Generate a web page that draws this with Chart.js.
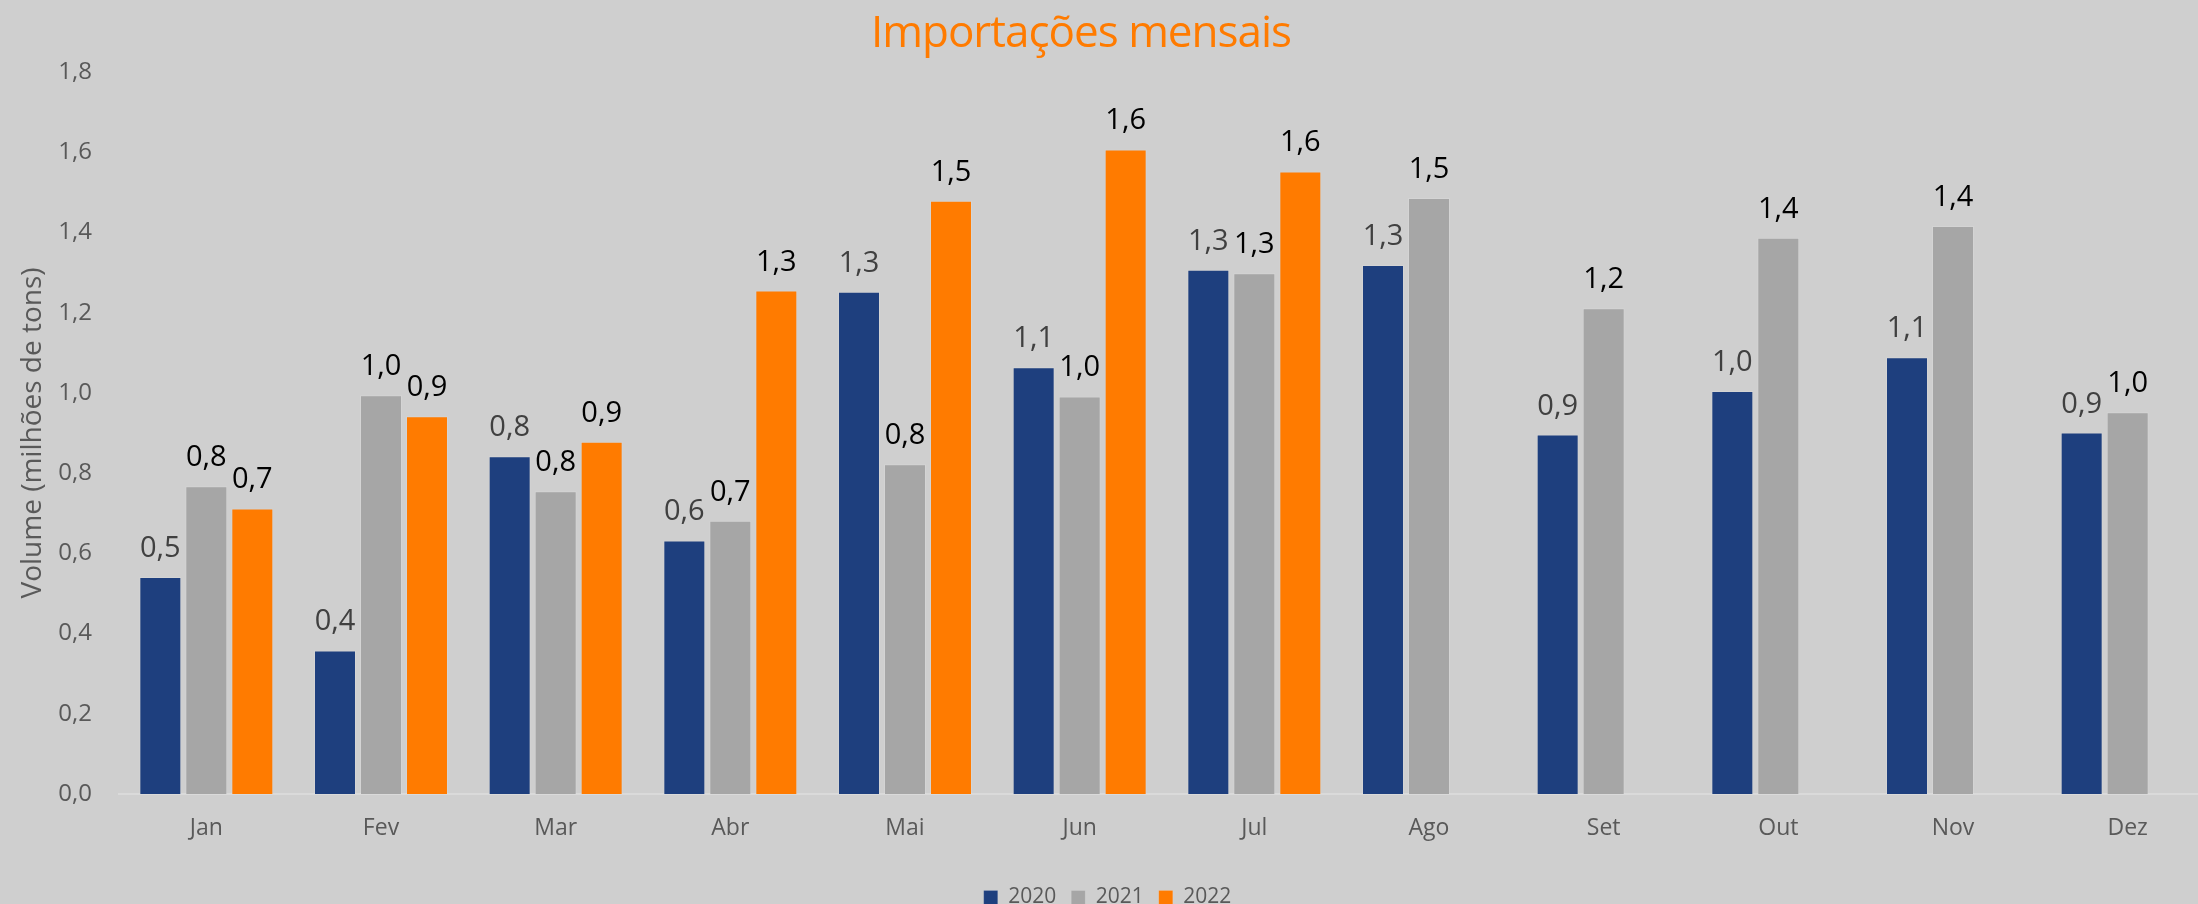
<!DOCTYPE html>
<html><head><meta charset="utf-8">
<script src="https://cdn.jsdelivr.net/npm/chart.js@4.4.1/dist/chart.umd.min.js"></script>
<style>
html,body{margin:0;padding:0;background:#cfcfcf;overflow:hidden;width:2198px;height:904px;}
#wrap{position:absolute;left:-13px;top:0;}
</style></head><body>
<div id="wrap"><canvas id="c" width="2228" height="918"></canvas></div>
<script>
const TITLE = 'Importações mensais';
const Y_TITLE = 'Volume (milhões de tons)';
const categories = ['Jan','Fev','Mar','Abr','Mai','Jun','Jul','Ago','Set','Out','Nov','Dez'];
const seriesNames = ['2020','2021','2022'];
const v2020 = [0.541,0.358,0.842,0.632,1.252,1.064,1.307,1.319,0.896,1.005,1.089,0.901];
const v2021 = [0.767,0.994,0.755,0.681,0.822,0.991,1.298,1.486,1.211,1.387,1.416,0.952];
const v2022 = [0.712,0.942,0.878,1.255,1.479,1.607,1.552,null,null,null,null,null];
const Y_MIN = 0, Y_MAX = 1.8, Y_STEP = 0.2;

const colors = ['#1e3f7e','#a6a6a6','#ff7b00'];
const labelColors = ['#404040','#000000','#000000'];
const FONT = '"Open Sans", "Noto Sans", sans-serif';
const fmt = v => v.toFixed(1).replace('.', ',');

const dataLabels = {
  id: 'dataLabels',
  afterDatasetsDraw(chart) {
    const ctx = chart.ctx;
    ctx.save();
    ctx.font = '29px ' + FONT;
    ctx.textAlign = 'center';
    ctx.textBaseline = 'alphabetic';
    chart.data.datasets.forEach((ds, i) => {
      const meta = chart.getDatasetMeta(i);
      meta.data.forEach((el, j) => {
        const v = ds.data[j];
        if (v === null || v === undefined) return;
        ctx.fillStyle = labelColors[i];
        ctx.fillText(fmt(v), el.x, el.y - 20);
      });
    });
    ctx.restore();
  }
};

const titleDraw = {
  id: 'titleDraw',
  afterDraw(chart) {
    const ctx = chart.ctx;
    ctx.save();
    ctx.font = '44px ' + FONT;
    try { ctx.letterSpacing = '-1px'; } catch (e) {}
    ctx.fillStyle = '#ff7b00';
    ctx.textAlign = 'center';
    ctx.textBaseline = 'alphabetic';
    ctx.fillText(TITLE, chart.width / 2 - 20, 47);
    ctx.restore();
  }
};

new Chart(document.getElementById('c'), {
  type: 'bar',
  data: {
    labels: categories,
    datasets: [v2020, v2021, v2022].map((d, i) => ({
      label: seriesNames[i],
      data: d,
      backgroundColor: colors[i],
      borderColor: 'rgba(255,255,255,0.12)',
      borderWidth: 1,
      categoryPercentage: 0.79,
      barPercentage: 0.913
    }))
  },
  options: {
    responsive: false,
    animation: false,
    devicePixelRatio: 1,
    layout: { padding: { left: 13, top: 72, right: 0, bottom: 0 } },
    plugins: {
      title: { display: false },
      tooltip: { enabled: false },
      legend: {
        position: 'bottom',
        labels: {
          boxWidth: 14, boxHeight: 14, padding: 15,
          color: '#595959',
          font: { size: 21, family: FONT }
        }
      }
    },
    scales: {
      x: {
        grid: { display: false, drawTicks: false },
        border: { display: true, color: '#dadada', width: 2 },
        ticks: { color: '#595959', padding: 21, font: { size: 23, family: FONT } },
        afterFit: s => { s.height = 78; }
      },
      y: {
        min: Y_MIN, max: Y_MAX,
        grid: { display: false, drawTicks: false },
        border: { display: false },
        ticks: {
          stepSize: Y_STEP, padding: 27, color: '#595959',
          font: { size: 24, family: FONT },
          callback: v => fmt(v)
        },
        title: {
          display: true, text: Y_TITLE, color: '#595959',
          font: { size: 28, family: FONT },
          padding: { top: 16, bottom: 0 }
        },
        afterFit: s => { s.width = 119; }
      }
    }
  },
  plugins: [dataLabels, titleDraw]
});
</script>
</body></html>
